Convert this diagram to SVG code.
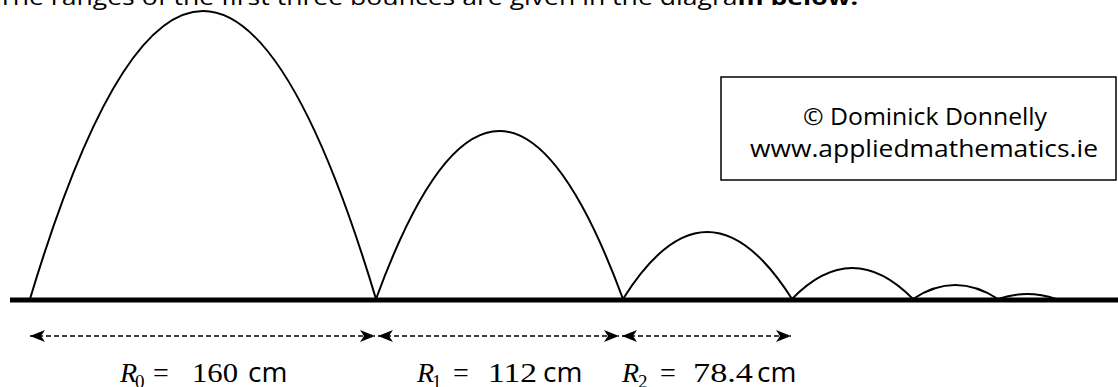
<svg xmlns="http://www.w3.org/2000/svg" width="1118" height="387" viewBox="0 0 1118 387">
<style>
.arc{fill:none;stroke:#000;stroke-width:2}
.dim{fill:none;stroke:#000;stroke-width:1.4;stroke-dasharray:5 3}
.cap{font-family:"Open Sans","Liberation Sans",sans-serif;fill:#000}
.math{font-family:"Liberation Serif","DejaVu Serif",serif;fill:#000}
</style>
<defs>
<marker id="ah" viewBox="0 0 15 12" refX="15" refY="6" markerWidth="15" markerHeight="12" markerUnits="userSpaceOnUse" orient="auto-start-reverse">
<path d="M0,0 L15,6 L0,12 L4,6 z" fill="#000"/>
</marker>
</defs>
<rect width="1118" height="387" fill="#fff"/>
<text class="cap" x="-2" y="5" font-size="22" textLength="860" lengthAdjust="spacingAndGlyphs">The ranges of the first three bounces are given in the diagra<tspan font-weight="bold">m below.</tspan></text>
<g id="ground"><line x1="10" y1="300" x2="1118" y2="300" stroke="#000" stroke-width="5"/></g>
<g id="bounces">
<path class="arc" d="M30,299 Q203,-277 376,299"/>
<path class="arc" d="M376,299 Q499,-37 623,299"/>
<path class="arc" d="M623,299 Q707,165 792,299"/>
<path class="arc" d="M792,299 Q852,237 913,299"/>
<path class="arc" d="M913,299 Q955,271 998,299"/>
<path class="arc" d="M998,299 Q1027,289 1056,299"/>
</g>
<g id="connectors">
<line class="dim" x1="30" y1="336" x2="375" y2="336" marker-start="url(#ah)" marker-end="url(#ah)"/>
<line class="dim" x1="378" y1="336" x2="619" y2="336" marker-start="url(#ah)" marker-end="url(#ah)"/>
<line class="dim" x1="622" y1="336" x2="791" y2="336" marker-start="url(#ah)" marker-end="url(#ah)"/>
</g>
<g id="label-r0">
<text class="math" x="120" y="382" font-size="28" font-style="italic">R</text>
<text class="math" x="135" y="388" font-size="19">0</text>
<text class="math" x="153" y="382" font-size="28">=</text>
<text class="math" x="192" y="382" font-size="28" textLength="46" lengthAdjust="spacingAndGlyphs">160</text>
<text class="cap" x="248" y="382" font-size="28">cm</text>
</g>
<g id="label-r1">
<text class="math" x="417" y="382" font-size="28" font-style="italic">R</text>
<text class="math" x="432" y="388" font-size="19">1</text>
<text class="math" x="453" y="382" font-size="28">=</text>
<text class="math" x="488" y="382" font-size="28" textLength="49" lengthAdjust="spacingAndGlyphs">112</text>
<text class="cap" x="543" y="382" font-size="28">cm</text>
</g>
<g id="label-r2">
<text class="math" x="622" y="382" font-size="28" font-style="italic">R</text>
<text class="math" x="638" y="388" font-size="19">2</text>
<text class="math" x="660" y="382" font-size="28">=</text>
<text class="math" x="693" y="382" font-size="28" textLength="60" lengthAdjust="spacingAndGlyphs">78.4</text>
<text class="cap" x="757" y="382" font-size="28">cm</text>
</g>
<g id="copyright">
<rect x="721" y="77" width="395" height="103" fill="#fff" stroke="#000" stroke-width="1.5"/>
<text class="cap" x="925" y="125" font-size="24" text-anchor="middle" textLength="244" lengthAdjust="spacingAndGlyphs">© Dominick Donnelly</text>
<text class="cap" x="924" y="157" font-size="24" text-anchor="middle" textLength="348" lengthAdjust="spacingAndGlyphs">www.appliedmathematics.ie</text>
</g>
</svg>
